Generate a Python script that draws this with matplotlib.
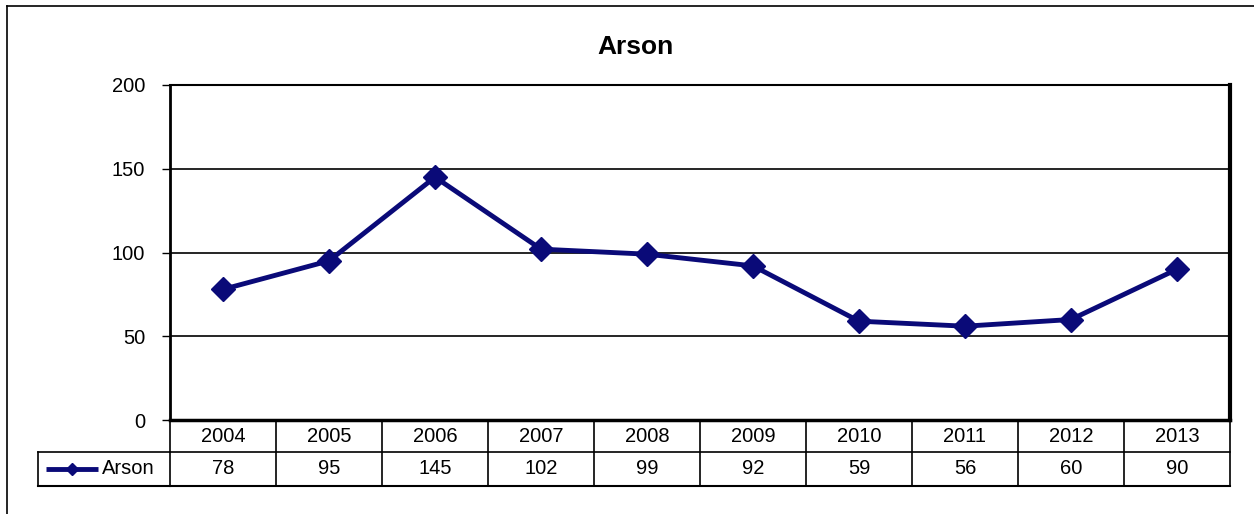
import matplotlib
matplotlib.use("Agg")
import matplotlib.pyplot as plt
from matplotlib.lines import Line2D
from matplotlib.transforms import blended_transform_factory

plt.rcParams['font.family'] = ['Liberation Sans', 'DejaVu Sans']

years = ['2004', '2005', '2006', '2007', '2008', '2009', '2010', '2011', '2012', '2013']
arson = [78, 95, 145, 102, 99, 92, 59, 56, 60, 90]
yticks = [0, 50, 100, 150, 200]
series_name = 'Arson'
navy = '#0a0a78'
fs = 14.5

W, H = 1254, 514
fig = plt.figure(figsize=(W / 100, H / 100), dpi=100)
ax = fig.add_axes([170 / W, 1 - 420 / H, 1060 / W, 335 / H])

x = list(range(len(years)))
ax.plot(x, arson, color=navy, lw=3.5, marker='D', ms=12,
        markerfacecolor=navy, markeredgecolor=navy, zorder=3)

ax.set_xlim(-0.5, len(years) - 0.5)
ax.set_ylim(0, 200)
ax.set_yticks(yticks)
ax.set_yticklabels([str(v) for v in yticks], fontsize=fs)
ax.tick_params(axis='y', length=6, width=1, pad=12)
ax.set_xticks([])
ax.grid(axis='y', color='black', lw=1.2)
for s in ax.spines.values():
    s.set_color('black')
ax.spines['left'].set_linewidth(2)
ax.spines['bottom'].set_linewidth(2.5)
ax.spines['right'].set_linewidth(3)
ax.spines['top'].set_linewidth(1.5)

fig.text(635 / W, 1 - 47 / H, 'Arson', ha='center', va='center',
         fontsize=19, fontweight='bold')

# data table below the plot
tr = blended_transform_factory(ax.transData, ax.transAxes)
r1 = -32 / 335
r2 = -66 / 335
kw = dict(transform=tr, clip_on=False, color='black')
ax.add_line(Line2D([-0.5, len(years) - 0.5], [r1, r1], lw=1.2, **kw))
ax.add_line(Line2D([-0.5, len(years) - 0.5], [r2, r2], lw=1.5, **kw))
for i in range(len(years) + 1):
    ax.add_line(Line2D([i - 0.5, i - 0.5], [0, r2], lw=1.2, **kw))
for i, (yr, v) in enumerate(zip(years, arson)):
    ax.text(i, r1 / 2, yr, transform=tr, ha='center', va='center', fontsize=fs)
    ax.text(i, (r1 + r2) / 2, str(v), transform=tr, ha='center', va='center', fontsize=fs)

# legend cell
fx = fig.transFigure
cell_l = 38 / W
cell_r = 170 / W
yt = 1 - 452 / H
yb = 1 - 486 / H
fig.add_artist(Line2D([cell_l, cell_r], [yt, yt], transform=fx, color='black', lw=1.2))
fig.add_artist(Line2D([cell_l, cell_r], [yb, yb], transform=fx, color='black', lw=1.5))
fig.add_artist(Line2D([cell_l, cell_l], [yt, yb], transform=fx, color='black', lw=1.2))
ym = (yt + yb) / 2
fig.add_artist(Line2D([46 / W, 98 / W], [ym, ym], transform=fx, color=navy, lw=3.5,
                      solid_capstyle='butt'))
fig.add_artist(Line2D([72 / W], [ym], transform=fx, color=navy, marker='D', ms=6, lw=0))
fig.text(102 / W, ym, series_name, ha='left', va='center', fontsize=fs)

# outer chart frame
fig.add_artist(Line2D([7 / W, 1], [1 - 6 / H, 1 - 6 / H], transform=fx, color='black', lw=1.2))
fig.add_artist(Line2D([7 / W, 7 / W], [0, 1 - 6 / H], transform=fx, color='black', lw=1.2))

fig.savefig('out.png', dpi=100)
